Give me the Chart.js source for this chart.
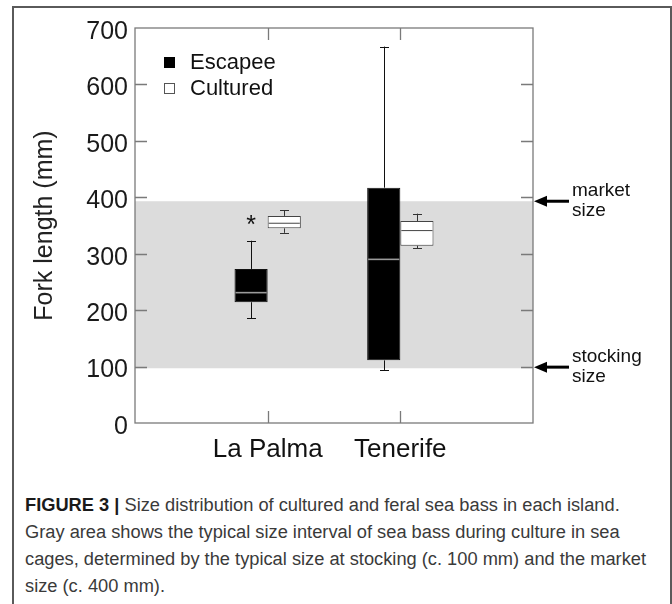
<!DOCTYPE html>
<html>
<head>
<meta charset="utf-8">
<script src="https://cdn.jsdelivr.net/npm/chart.js@4.4.1/dist/chart.umd.min.js"></script>
<style>
  html, body { margin: 0; padding: 0; background: #fff; }
  body { width: 672px; height: 604px; position: relative; overflow: hidden; font-family: "Liberation Sans", Arial, sans-serif; }
  #frame { position: absolute; left: 12px; top: 6px; width: 656px; height: 640px; border: 2px solid #5a5a5a; border-bottom: none; }
  #wrap { position: absolute; left: 0; top: 0; width: 672px; height: 480px; }
  #caption { position: absolute; left: 25px; top: 492px; font-size: 18px; line-height: 27px; color: #3a3a3a; white-space: nowrap; }
  #caption .ln { display: block; transform-origin: 0 0; }
  #caption b { color: #1a1a1a; }
</style>
</head>
<body>
<div id="frame"></div>
<div id="wrap"><canvas id="c"></canvas></div>
<div id="caption">
  <span class="ln"><b>FIGURE 3 |</b> Size distribution of cultured and feral sea bass in each island.</span>
  <span class="ln">Gray area shows the typical size interval of sea bass during culture in sea</span>
  <span class="ln">cages, determined by the typical size at stocking (c. 100 mm) and the market</span>
  <span class="ln">size (c. 400 mm).</span>
</div>
<script>
// ---- data ----
const categories = ['La Palma', 'Tenerife'];
const seriesNames = ['Escapee', 'Cultured'];
const escapeeMin    = [186, 94];
const escapeeQ1     = [214, 111];
const escapeeMedian = [231, 290];
const escapeeQ3     = [273, 417];
const escapeeMax    = [323, 667];
const escapeeOutlier = [358, null];
const culturedMin    = [337, 310];
const culturedQ1     = [345, 314];
const culturedMedian = [354, 341];
const culturedQ3     = [367, 358];
const culturedMax    = [377, 371];
const culturedOutlier = [null, null];
const yTickValues = [0, 100, 200, 300, 400, 500, 600, 700];
const cultureBand = [97, 393];            // stocking size .. market size
const bandLabels = [['market', 'size'], ['stocking', 'size']];
const bandMarks = [393, 99];

// ---- build ----
const xLabels = [''].concat(categories, ['']);
function pad(arr) { return [null].concat(arr, [null]); }
function boxes(q1, q3) { return pad(q1.map((v, i) => [v, q3[i]])); }
function stats(mn, q1, md, q3, mx, out) {
  return pad(mn.map((v, i) => ({ min: v, q1: q1[i], med: md[i], q3: q3[i], max: mx[i], out: out[i] })));
}
const FONT = '"Liberation Sans", Arial, sans-serif';
Chart.defaults.font.family = FONT;
const PADL = 30;

const extras = {
  id: 'extras',
  beforeDatasetsDraw(chart) {
    const { ctx, chartArea: a, scales: { y } } = chart;
    const t = y.getPixelForValue(cultureBand[1]);
    const b = y.getPixelForValue(cultureBand[0]);
    ctx.save();
    ctx.fillStyle = '#dcdcdc';
    ctx.fillRect(a.left, t, a.right - a.left, b - t);
    ctx.restore();
  },
  afterDatasetsDraw(chart) {
    const { ctx, scales: { y } } = chart;
    ctx.save();
    chart.data.datasets.forEach((ds, di) => {
      const meta = chart.getDatasetMeta(di);
      meta.data.forEach((bar, i) => {
        const s = ds.stats[i];
        if (!s) return;
        const { x, width } = bar.getProps(['x', 'width'], true);
        const px = Math.round(x) + 0.5;
        ctx.strokeStyle = ds.whiskerColor;
        ctx.lineWidth = 1;
        ctx.beginPath();
        const yMax = y.getPixelForValue(s.max), yQ3 = y.getPixelForValue(s.q3);
        const yMin = y.getPixelForValue(s.min), yQ1 = y.getPixelForValue(s.q1);
        ctx.moveTo(px, yQ3); ctx.lineTo(px, yMax);
        ctx.moveTo(px - 4.5, Math.round(yMax) + 0.5); ctx.lineTo(px + 4.5, Math.round(yMax) + 0.5);
        ctx.moveTo(px, yQ1); ctx.lineTo(px, yMin);
        ctx.moveTo(px - 4.5, Math.round(yMin) + 0.5); ctx.lineTo(px + 4.5, Math.round(yMin) + 0.5);
        ctx.stroke();
        // median
        ctx.strokeStyle = ds.medianColor;
        ctx.lineWidth = ds.medianWidth;
        ctx.beginPath();
        const ym = y.getPixelForValue(s.med);
        ctx.moveTo(x - width / 2 + 1, ym); ctx.lineTo(x + width / 2 - 1, ym);
        ctx.stroke();
        // outlier
        if (s.out !== null && s.out !== undefined) {
          ctx.fillStyle = '#111';
          ctx.font = '25px ' + FONT;
          ctx.textAlign = 'center';
          ctx.textBaseline = 'middle';
          ctx.fillText('*', x, y.getPixelForValue(s.out) + 5);
        }
      });
    });
    ctx.restore();
  },
  afterDraw(chart) {
    const { ctx, chartArea: a, scales: { x, y } } = chart;
    ctx.save();
    // plot frame
    ctx.strokeStyle = '#7a7a7a';
    ctx.lineWidth = 1.3;
    ctx.strokeRect(a.left, a.top, a.right - a.left, a.bottom - a.top);
    // inward ticks
    ctx.beginPath();
    yTickValues.forEach(v => {
      if (v === 0 || v === 700) return;
      const py = Math.round(y.getPixelForValue(v)) + 0.5;
      ctx.moveTo(a.left, py); ctx.lineTo(a.left + 12, py);
      ctx.moveTo(a.right, py); ctx.lineTo(a.right - 12, py);
    });
    categories.forEach((c, i) => {
      const px = Math.round(x.getPixelForValue(i + 1)) + 0.5;
      ctx.moveTo(px, a.bottom); ctx.lineTo(px, a.bottom - 12);
      ctx.moveTo(px, a.top); ctx.lineTo(px, a.top + 12);
    });
    ctx.stroke();
    // legend
    const ds = chart.data.datasets;
    ctx.font = '22px ' + FONT;
    ctx.textAlign = 'left';
    ctx.textBaseline = 'middle';
    ds.forEach((d, i) => {
      const cy = a.top + 34 + i * 26;
      ctx.fillStyle = d.backgroundColor;
      ctx.fillRect(a.left + 29, cy - 5, 11, 11);
      ctx.strokeStyle = d.legendBorder;
      ctx.lineWidth = 1;
      ctx.strokeRect(a.left + 29.5, cy - 4.5, 10, 10);
      ctx.fillStyle = '#111';
      ctx.fillText(d.label, a.left + 55, cy + 1);
    });
    // annotation arrows
    ctx.font = '19px ' + FONT;
    bandMarks.forEach((v, i) => {
      const py = y.getPixelForValue(v);
      ctx.strokeStyle = '#000';
      ctx.lineWidth = 3;
      ctx.beginPath();
      ctx.moveTo(a.right + 36, py); ctx.lineTo(a.right + 10, py);
      ctx.stroke();
      ctx.fillStyle = '#000';
      ctx.beginPath();
      ctx.moveTo(a.right + 1, py);
      ctx.lineTo(a.right + 14, py - 5.5);
      ctx.lineTo(a.right + 14, py + 5.5);
      ctx.closePath();
      ctx.fill();
      ctx.fillStyle = '#111';
      ctx.textBaseline = 'middle';
      ctx.fillText(bandLabels[i][0], a.right + 39, py - 10);
      ctx.fillText(bandLabels[i][1], a.right + 39, py + 10);
    });
    ctx.restore();
  }
};

new Chart(document.getElementById('c'), {
  type: 'bar',
  data: {
    labels: xLabels,
    datasets: [
      {
        label: seriesNames[0],
        data: boxes(escapeeQ1, escapeeQ3),
        stats: stats(escapeeMin, escapeeQ1, escapeeMedian, escapeeQ3, escapeeMax, escapeeOutlier),
        backgroundColor: '#000',
        borderColor: '#111',
        borderWidth: 1,
        borderSkipped: false,
        whiskerColor: '#111',
        medianColor: '#9a9a9a',
        medianWidth: 1.6,
        legendBorder: '#000'
      },
      {
        label: seriesNames[1],
        data: boxes(culturedQ1, culturedQ3),
        stats: stats(culturedMin, culturedQ1, culturedMedian, culturedQ3, culturedMax, culturedOutlier),
        backgroundColor: '#fff',
        borderColor: '#444',
        borderWidth: 1,
        borderSkipped: false,
        whiskerColor: '#333',
        medianColor: '#444',
        medianWidth: 1,
        legendBorder: '#555'
      }
    ]
  },
  options: {
    responsive: true,
    maintainAspectRatio: false,
    animation: false,
    events: [],
    categoryPercentage: 0.5,
    barPercentage: 1.0,
    layout: { padding: { left: PADL, right: 139, top: 28, bottom: 0 } },
    plugins: { legend: { display: false }, tooltip: { enabled: false } },
    scales: {
      x: {
        type: 'category',
        offset: false,
        grid: { display: false, drawTicks: false },
        border: { display: false },
        ticks: { autoSkip: false, maxRotation: 0, padding: 11, color: '#111', font: { size: 26 } },
        afterFit(s) { s.height = 57; }
      },
      y: {
        min: 0, max: 700,
        grid: { display: false, drawTicks: false },
        border: { display: false },
        ticks: { stepSize: 100, padding: 7, labelOffset: 4, color: '#1a1a1a', font: { size: 25 } },
        title: { display: true, text: 'Fork length (mm)', color: '#222', font: { size: 25 }, padding: { top: 0, bottom: 0 } },
        afterFit(s) { s.width = 135 - PADL; }
      }
    }
  },
  plugins: [extras]
});

// fit caption lines to the reference width
(function () {
  const lines = document.querySelectorAll('#caption .ln');
  const w = lines[2].getBoundingClientRect().width;
  const k = 621 / w;
  lines.forEach(l => { l.style.transform = 'scaleX(' + k + ')'; });
})();
</script>
</body>
</html>
